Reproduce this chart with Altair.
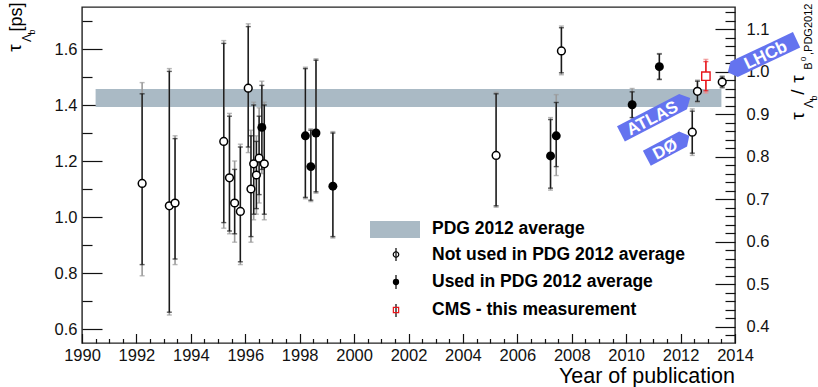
import altair as alt
import pandas as pd

# ---------------------------------------------------------------- data
# Lambda_b lifetime measurements [ps] vs. year of publication.
# Each entry: value, statistical error (up/down) and total error (up/down).

# not used in the PDG 2012 average
open_year = [1992.21, 1993.21, 1993.42, 1995.21, 1995.42, 1995.61, 1995.82, 1996.11,
             1996.21, 1996.31, 1996.41, 1996.51, 1996.70, 2005.22, 2007.62, 2012.43,
             2012.62, 2013.53]
open_tau = [1.12, 1.04, 1.05, 1.27, 1.14, 1.05, 1.02, 1.46,
            1.10, 1.19, 1.15, 1.21, 1.19, 1.22, 1.593, 1.303,
            1.449, 1.482]
open_stat_up = [0.32, 0.48, 0.23, 0.35, 0.22, 0.12, 0.23, 0.22,
                0.19, 0.21, 0.12, 0.15, 0.21, 0.22, 0.083, 0.075,
                0.036, 0.018]
open_stat_dn = [0.29, 0.38, 0.20, 0.29, 0.19, 0.11, 0.18, 0.21,
                0.17, 0.18, 0.12, 0.13, 0.18, 0.18, 0.078, 0.075,
                0.036, 0.018]
open_tot_up = [0.36, 0.49, 0.24, 0.36, 0.23, 0.15, 0.24, 0.23,
               0.21, 0.22, 0.14, 0.18, 0.22, 0.225, 0.089, 0.083,
               0.040, 0.022]
open_tot_dn = [0.33, 0.39, 0.22, 0.31, 0.20, 0.14, 0.19, 0.23,
               0.19, 0.20, 0.14, 0.16, 0.20, 0.185, 0.085, 0.083,
               0.040, 0.022]

# used in the PDG 2012 average
used_year = [1996.61, 1998.21, 1998.41, 1998.60, 1999.22, 2007.22, 2007.43, 2010.22, 2011.22]
used_tau = [1.32, 1.29, 1.18, 1.30, 1.11, 1.218, 1.290, 1.401, 1.537]
used_stat_up = [0.15, 0.24, 0.13, 0.26, 0.19, 0.130, 0.119, 0.046, 0.045]
used_stat_dn = [0.15, 0.22, 0.12, 0.21, 0.18, 0.115, 0.110, 0.046, 0.045]
used_tot_up = [0.165, 0.245, 0.135, 0.265, 0.195, 0.137, 0.147, 0.058, 0.047]
used_tot_dn = [0.165, 0.225, 0.125, 0.215, 0.185, 0.122, 0.142, 0.058, 0.047]

# CMS - this measurement
cms_year = [2012.93]
cms_tau = [1.503]
cms_stat = [0.052]
cms_tot = [0.060]

# PDG 2012 average band
pdg_tau = 1.425
pdg_err = 0.032
pdg_years = [1990.5, 2013.5]

# B0 lifetime (PDG 2012) used for the ratio axis
tau_b0 = 1.519

# tagged experiments: label, year, lifetime, tilt
tag_label = ["ATLAS", "DØ", "LHCb"]
tag_year = [2011.08, 2011.54, 2015.0]
tag_tau = [1.361, 1.250, 1.575]
tag_tilt = [27.4, 27.8, 25.2]

# axis ticks
year_major = list(range(1990, 2015, 2))
year_minor = [1990 + 0.5 * i for i in range(49) if (0.5 * i) % 2 != 0]
tau_major = [0.6, 0.8, 1.0, 1.2, 1.4, 1.6]
tau_minor = [0.7, 0.9, 1.1, 1.3, 1.5, 1.7]
ratio_major = [0.4, 0.5, 0.6, 0.7, 0.8, 0.9, 1.0, 1.1]
ratio_minor = [round(0.38 + 0.02 * i, 2) for i in range(39)]
ratio_minor = [r for r in ratio_minor if round(r * 10) != r * 10 and r <= 1.15]

# ---------------------------------------------------------------- table
rows = []
for grp, ys, ts, su, sd, tu, td in [
    ("open", open_year, open_tau, open_stat_up, open_stat_dn, open_tot_up, open_tot_dn),
    ("used", used_year, used_tau, used_stat_up, used_stat_dn, used_tot_up, used_tot_dn),
    ("cms", cms_year, cms_tau, cms_stat, cms_stat, cms_tot, cms_tot),
]:
    for i in range(len(ys)):
        rows.append({
            "group": grp, "year": ys[i], "tau": ts[i],
            "stat_lo": ts[i] - sd[i], "stat_hi": ts[i] + su[i],
            "tot_lo": ts[i] - td[i], "tot_hi": ts[i] + tu[i],
        })
df = pd.DataFrame(rows)
df_black = df[df.group != "cms"]
df_cms = df[df.group == "cms"]

FONT = "Liberation Sans"
X_SCALE = alt.Scale(domain=[1990, 2014], nice=False, zero=False)
Y_SCALE = alt.Scale(domain=[0.55, 1.75], nice=False, zero=False)

W, H = 653, 336


def X(field):
    return alt.X(f"{field}:Q", scale=X_SCALE, axis=None)


def Y(field):
    return alt.Y(f"{field}:Q", scale=Y_SCALE, axis=None)


# ---------------------------------------------------------------- axes
def axis(orient, values, tick, labels=True, **kw):
    return alt.Axis(
        orient=orient, values=values, tickSize=tick, offset=-tick,
        domain=False, grid=False, title=None, labels=labels,
        labelOverlap=False, labelFlush=False, labelBound=False,
        tickColor="#111", tickWidth=1.2, labelFont=FONT, labelFontSize=16.5,
        labelColor="#111", **kw)


axis_df = pd.DataFrame({"ax": [2000.0], "ay": [1.0]})


def axis_layer(x_axis, y_axis):
    return alt.Chart(axis_df).mark_point(opacity=0).encode(
        x=alt.X("ax:Q", scale=X_SCALE, axis=x_axis),
        y=alt.Y("ay:Q", scale=Y_SCALE, axis=y_axis),
    )


ratio_expr = f"format(datum.value / {tau_b0}, '.1f')"
axes = [
    axis_layer(axis("bottom", year_major, 9.5, format="d", labelPadding=4),
               axis("left", tau_major, 20, format=".1f", labelPadding=5)),
    axis_layer(axis("bottom", year_minor, 4.5, labels=False),
               axis("left", tau_minor, 10, labels=False)),
    axis_layer(None, axis("right", [r * tau_b0 for r in ratio_major], 20,
                          labelExpr=ratio_expr, labelPadding=11)),
    axis_layer(None, axis("right", [r * tau_b0 for r in ratio_minor], 10, labels=False)),
]

# ---------------------------------------------------------------- marks
band = alt.Chart(pd.DataFrame({
    "x0": [pdg_years[0]], "x1": [pdg_years[1]],
    "lo": [pdg_tau - pdg_err], "hi": [pdg_tau + pdg_err],
})).mark_rect(color="#aabac5").encode(
    x=X("x0"), x2="x1", y=Y("lo"), y2="hi")


def bars(data, color_tot, color_stat):
    base = alt.Chart(data)
    return [
        base.mark_rule(color=color_tot, strokeWidth=1.6).encode(x=X("year"), y=Y("tot_lo"), y2="tot_hi"),
        base.mark_tick(color=color_tot, orient="horizontal", size=5, thickness=1.4).encode(x=X("year"), y=Y("tot_lo")),
        base.mark_tick(color=color_tot, orient="horizontal", size=5, thickness=1.4).encode(x=X("year"), y=Y("tot_hi")),
        base.mark_rule(color=color_stat, strokeWidth=1.4).encode(x=X("year"), y=Y("stat_lo"), y2="stat_hi"),
        base.mark_tick(color=color_stat, orient="horizontal", size=5, thickness=1.4).encode(x=X("year"), y=Y("stat_lo")),
        base.mark_tick(color=color_stat, orient="horizontal", size=5, thickness=1.4).encode(x=X("year"), y=Y("stat_hi")),
    ]


open_pts = alt.Chart(df[df.group == "open"]).mark_point(
    shape="circle", size=60, filled=True, fill="white", stroke="black",
    strokeWidth=1.5, opacity=1).encode(x=X("year"), y=Y("tau"))
used_pts = alt.Chart(df[df.group == "used"]).mark_point(
    shape="circle", size=80, filled=True, color="black", opacity=1).encode(
    x=X("year"), y=Y("tau"))
cms_pts = alt.Chart(df_cms).mark_point(
    shape="square", size=70, filled=True, fill="white", stroke="#e8141a",
    strokeWidth=1.4, opacity=1).encode(x=X("year"), y=Y("tau"))

# ---------------------------------------------------------------- tags
TAG_COLOR = "#6473ef"


def tag_path(length, height, tip, tip_right):
    h = height / length
    a = 1 - 2 * tip / length
    if tip_right:
        return (f"M -1 {-h:.3f} L {a:.3f} {-h:.3f} L 1 0 L {a:.3f} {h:.3f} "
                f"L -1 {h:.3f} Z")
    return (f"M 1 {-h:.3f} L {-a:.3f} {-h:.3f} L -1 0 L {-a:.3f} {h:.3f} "
            f"L 1 {h:.3f} Z")


tag_geom = [(78, 17, 8, True), (48, 17, 7, True), (76, 17, 7, False)]
tags = []
for i, label in enumerate(tag_label):
    length, height, tip, right = tag_geom[i]
    d = pd.DataFrame({"year": [tag_year[i]], "tau": [tag_tau[i]], "t": [label]})
    ang = 360 - tag_tilt[i]
    tags.append(alt.Chart(d).mark_point(
        shape=tag_path(length, height, tip, right), size=length ** 2,
        filled=True, color=TAG_COLOR, opacity=1, angle=ang,
    ).encode(x=X("year"), y=Y("tau")))
    tags.append(alt.Chart(d).mark_text(
        font=FONT, fontSize=17, fontWeight="bold", color="white", angle=ang,
        align="center", baseline="middle", dx=(-tip / 2 if right else tip / 2), dy=1,
    ).encode(x=X("year"), y=Y("tau"), text="t:N"))

# ---------------------------------------------------------------- legend
def txt(s, x, y, size=17.5, weight="bold", angle=0, align="left", baseline="middle"):
    kw = {}
    if angle:
        kw["angle"] = angle
    return alt.Chart(pd.DataFrame({"t": [s]})).mark_text(
        font=FONT, fontSize=size, fontWeight=weight, color="black",
        align=align, baseline=baseline, **kw,
    ).encode(x=alt.value(x), y=alt.value(y), text="t:N")


one = pd.DataFrame({"k": [0]})
legend = [
    alt.Chart(one).mark_rect(color="#aabac5").encode(
        x=alt.value(288), x2=alt.value(338), y=alt.value(214), y2=alt.value(231)),
    txt("PDG 2012 average", 350, 222),
    txt("Not used in PDG 2012 average", 350, 248),
    txt("Used in PDG 2012 average", 350, 275),
    txt("CMS - this measurement", 350, 303),
    alt.Chart(one).mark_rule(color="black", strokeWidth=1.2).encode(
        x=alt.value(314), y=alt.value(241), y2=alt.value(254)),
    alt.Chart(one).mark_point(shape="circle", size=30, filled=False, color="black",
                              strokeWidth=1.2, opacity=1).encode(
        x=alt.value(314), y=alt.value(247.5)),
    alt.Chart(one).mark_rule(color="black", strokeWidth=1.2).encode(
        x=alt.value(314), y=alt.value(268), y2=alt.value(282)),
    alt.Chart(one).mark_point(shape="circle", size=40, filled=True, color="black",
                              opacity=1).encode(x=alt.value(314), y=alt.value(275)),
    alt.Chart(one).mark_rule(color="black", strokeWidth=1.2).encode(
        x=alt.value(314), y=alt.value(297), y2=alt.value(310)),
    alt.Chart(one).mark_point(shape="square", size=28, filled=False, color="#e8141a",
                              strokeWidth=1.2, opacity=1).encode(
        x=alt.value(314), y=alt.value(303)),
]

# ---------------------------------------------------------------- axis titles
titles = [
    # left: tau_{Lambda_b} [ps]
    txt("τ", -67, 41, size=19, weight="normal", angle=270, align="center"),
    txt("Λ", -55, 31, size=12, weight="normal", angle=270, align="center"),
    txt("b", -50, 25, size=9, weight="normal", angle=270, align="center"),
    txt("[ps]", -65, 10, size=18, weight="normal", angle=270, align="center"),
    # right: tau_{Lambda_b} / tau_{B0,PDG2012}
    txt("τ", 716, 109, size=19, weight="normal", angle=270, align="center"),
    txt("Λ", 727, 97, size=12, weight="normal", angle=270, align="center"),
    txt("b", 732, 91, size=9, weight="normal", angle=270, align="center"),
    txt("/", 716, 85, size=19, weight="normal", angle=270, align="center"),
    txt("τ", 716, 72, size=19, weight="normal", angle=270, align="center"),
    txt("B", 727, 59, size=11, weight="normal", angle=270, align="center"),
    txt("0", 722, 52, size=8, weight="normal", angle=270, align="center"),
    txt(",PDG2012", 727, 48, size=11, weight="normal", angle=270, align="left"),
    # bottom
    txt("Year of publication", W, 376, size=21.5, weight="normal", align="right",
        baseline="alphabetic"),
]

layers = ([band] + bars(df_black, "#9a9a9a", "#1a1a1a") + bars(df_cms, "#f08a8a", "#e8141a")
          + [open_pts, used_pts, cms_pts] + tags + legend + titles + axes)

chart = alt.layer(*layers).resolve_axis(x="independent", y="independent").properties(
    width=W, height=H,
    autosize=alt.AutoSizeParams(type="none"),
    padding={"left": 82, "top": 7, "right": 83, "bottom": 44},
    background="white",
).configure_view(stroke="#222", strokeWidth=1.4)

chart.save("out.html", embed_options={"renderer": "svg", "actions": False})
